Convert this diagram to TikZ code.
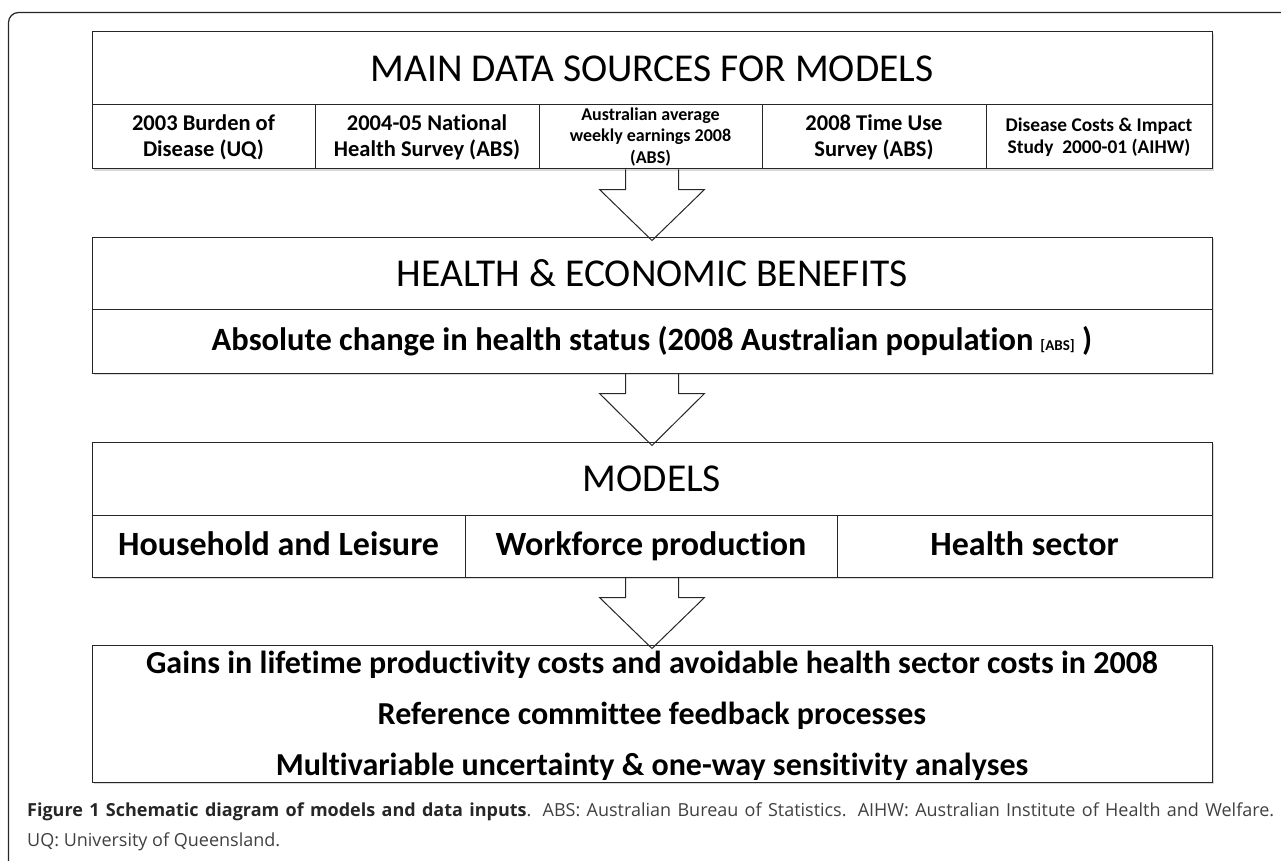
\documentclass[tikz,border=0pt]{standalone}
\usepackage{fontspec}
\setmainfont{Carlito}[Ligatures=NoCommon]
\newfontfamily\capfont{Open Sans}
\usepackage{xcolor}
\usepackage{tikz}
\usetikzlibrary{
    calc,
    shadows
}

\begin{document}
\begin{tikzpicture}[x=1pt,y=-1pt,inner sep=0pt]
    \tikzstyle{box}=[draw=black!85, fill=white, line width=1pt, align=center,
        drop shadow={shadow xshift=1.6pt, shadow yshift=-1.6pt, opacity=0.3}]
    \tikzstyle{head}=[box, minimum width=1120pt, font=\fontsize{39.5}{44}\selectfont]
    \tikzstyle{big}=[font=\bfseries\fontsize{32.5}{36}\selectfont]
    \tikzstyle{cell}=[box, font=\bfseries\fontsize{34}{38}\selectfont, text height=25pt, text depth=6pt]
    \tikzstyle{small}=[font=\bfseries\fontsize{22.5}{26}\selectfont]
    \tikzstyle{tiny}=[font=\bfseries\fontsize{18}{21.5}\selectfont]
    \tikzstyle{blockarr}=[draw=black!85, line width=1pt, line join=miter]
    \useasboundingbox (0,0) rectangle (1281,861);
    \draw[line width=1.2pt, draw=black!85, rounded corners=10pt] (8.5,861) -- (8.5,12.5) -- (1281,12.5);

    % data sources
    \node[head, minimum height=73pt] (src) at (652,68.5) {MAIN DATA SOURCES FOR MODELS};
    \node[box, small, minimum width=223pt, minimum height=64pt] (srcA) at (203.5,137) {2003 Burden of\\Disease (UQ)};
    \node[box, small, minimum width=224pt, minimum height=64pt] (srcB) at (427,137) {2004-05 National\\Health Survey (ABS)};
    \node[box, tiny, minimum width=223pt, minimum height=64pt] (srcC) at (650.5,137) {Australian average\\weekly earnings 2008\\(ABS)};
    \node[box, small, minimum width=224pt, minimum height=64pt] (srcD) at (874,137) {2008 Time Use\\Survey (ABS)};
    \node[box, font=\bfseries\fontsize{19.4}{22}\selectfont, minimum width=226pt, minimum height=64pt] (srcE) at (1099,137) {Disease Costs \& Impact\\Study\ \ 2000-01 (AIHW)};

    % benefits
    \node[head, minimum height=72pt] (ben) at (652,273) {HEALTH \& ECONOMIC BENEFITS};
    \node[box, big, minimum width=1120pt, minimum height=64pt, text height=24pt, text depth=6pt] (benrow) at (652,341)
        {Absolute change in health status (2008 Australian population {\fontsize{15}{15}\selectfont [ABS]} )};

    % models
    \node[head, minimum height=73pt] (mod) at (652,478.5) {MODELS};
    \node[cell, minimum width=373pt, minimum height=62pt] (modA) at (278.5,546) {Household and Leisure};
    \node[cell, minimum width=372pt, minimum height=62pt] (modB) at (651,546) {Workforce production};
    \node[cell, minimum width=375pt, minimum height=62pt] (modC) at (1024.5,546) {Health sector};

    % outputs
    \node[box, minimum width=1120pt, minimum height=137pt, text depth=0pt, font=\bfseries\fontsize{32}{51}\selectfont] (out) at (652,713.5)
        {Gains in lifetime productivity costs and avoidable health sector costs in 2008\\
         Reference committee feedback processes\\
         Multivariable uncertainty \& one-way sensitivity analyses};

    \foreach \up/\low/\dn in {src/srcC/ben, ben/benrow/mod, mod/modB/out}
        \draw[blockarr] ($(\up.center |- \low.south)+(-26.5,0)$) -- ++(0,20) -- ++(-26,0)
            -- ($(\up.center |- \dn.north)+(0,4)$) -- ($(\up.center |- \low.south)+(52.5,20)$)
            -- ++(-26,0) -- ($(\up.center |- \low.south)+(26.5,0)$);

    \node[anchor=base west, font=\capfont\fontsize{18}{22}\selectfont, text=black!75] (cap1) at (27,816)
        {\makebox[1247pt][s]{{\color{black!85}\bfseries Figure 1 Schematic diagram of models and data inputs}. ABS: Australian Bureau of Statistics. AIHW: Australian Institute of Health and Welfare.}};
    \node[anchor=base west, font=\capfont\fontsize{18}{22}\selectfont, text=black!75] (cap2) at (27,846) {UQ: University of Queensland.};
\end{tikzpicture}
\end{document}
